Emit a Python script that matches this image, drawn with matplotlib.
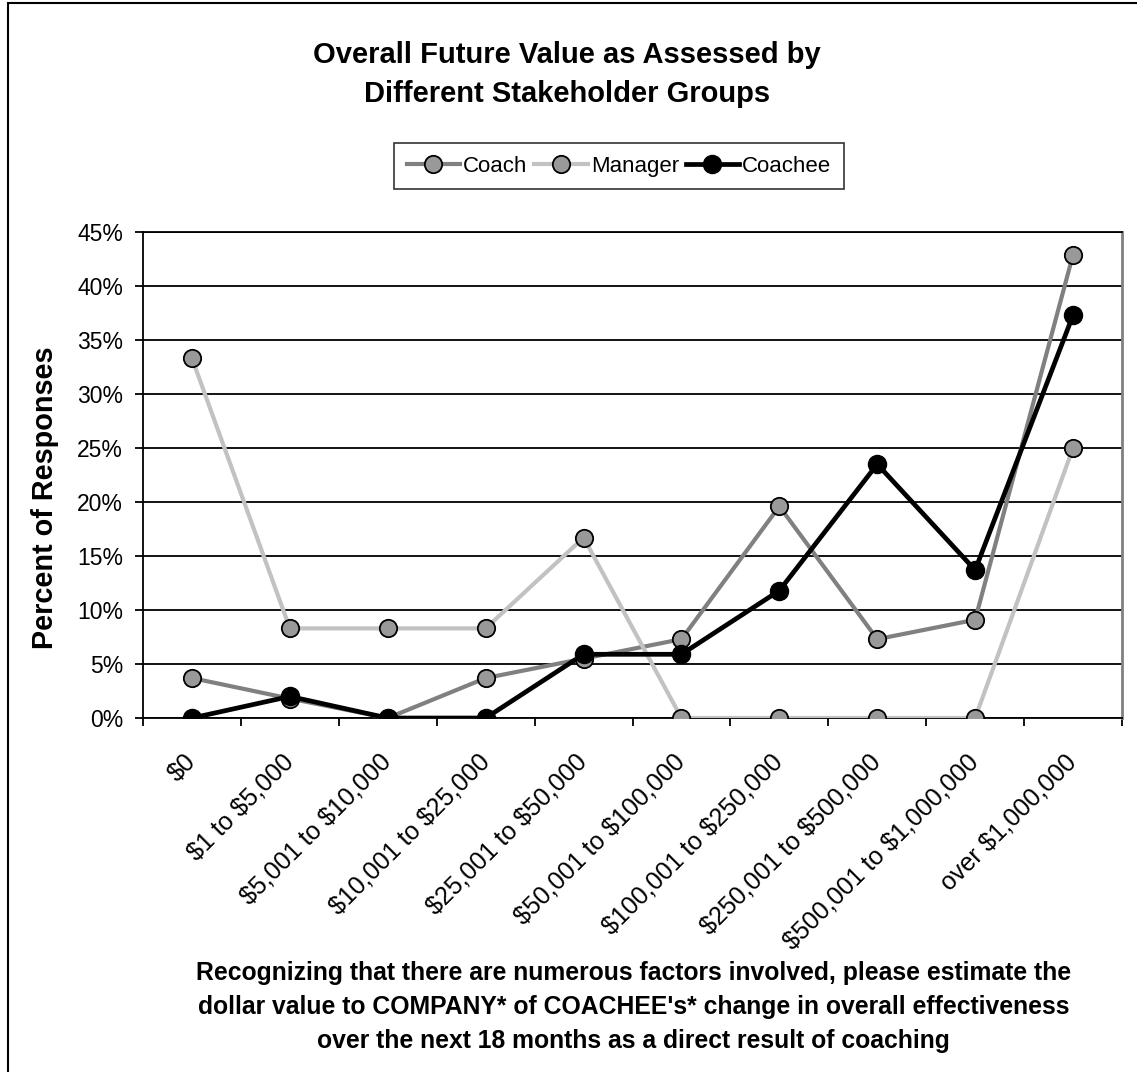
import matplotlib.pyplot as plt
from matplotlib.ticker import FuncFormatter

plt.rcParams['font.family'] = ['Liberation Sans', 'DejaVu Sans']

categories = ['$0', '$1 to $5,000', '$5,001 to $10,000', '$10,001 to $25,000',
              '$25,001 to $50,000', '$50,001 to $100,000', '$100,001 to $250,000',
              '$250,001 to $500,000', '$500,001 to $1,000,000', 'over $1,000,000']
coach = [3.7, 1.8, 0.0, 3.7, 5.5, 7.3, 19.6, 7.3, 9.1, 42.9]
manager = [33.3, 8.3, 8.3, 8.3, 16.7, 0.0, 0.0, 0.0, 0.0, 25.0]
coachee = [0.0, 2.0, 0.0, 0.0, 5.9, 5.9, 11.8, 23.5, 13.7, 37.3]

fig = plt.figure(figsize=(11.37, 10.72), dpi=100)
ax = fig.add_axes([0.1258, 0.3302, 0.861, 0.4534])

x = list(range(len(categories)))

ax.plot(x, coach, color='#808080', lw=3.0, marker='o', ms=12.5,
        mfc='#999999', mec='black', mew=1.3, label='Coach', zorder=3)
ax.plot(x, manager, color='#c2c2c2', lw=3.0, marker='o', ms=12.5,
        mfc='#999999', mec='black', mew=1.3, label='Manager', zorder=3)
ax.plot(x, coachee, color='black', lw=3.4, marker='o', ms=13,
        mfc='black', mec='black', label='Coachee', zorder=4)

ax.set_xlim(-0.5, len(categories) - 0.5)
ax.set_ylim(0, 45)
ax.set_yticks(range(0, 46, 5))
ax.yaxis.set_major_formatter(FuncFormatter(lambda v, p: f'{v:.0f}%'))
ax.yaxis.grid(True, color='black', lw=1.3)
ax.set_axisbelow(True)

# category labels sit between the boundary ticks
ax.set_xticks([i + 0.5 for i in x[:-1]] + [-0.5, len(categories) - 0.5])
ax.set_xticklabels([])
ax.set_xticks(x, minor=True)
ax.set_xticklabels([c.replace('$', r'\$') for c in categories], minor=True,
                   rotation=45, ha='right', va='center', rotation_mode='anchor',
                   fontsize=18)
ax.tick_params(axis='x', which='minor', length=0, pad=29)
ax.tick_params(axis='x', which='major', length=5.5, width=1.3, direction='out')
ax.tick_params(axis='y', length=5.5, width=1.3, labelsize=16.5, pad=9)

for side in ['left', 'bottom', 'top']:
    ax.spines[side].set_linewidth(1.3)
    ax.spines[side].set_color('black')
ax.spines['right'].set_color('#808080')
ax.spines['right'].set_linewidth(2)

fig.text(0.040, 0.5354, 'Percent of Responses', rotation=90, ha='center',
         va='center', fontsize=20.8, fontweight='bold')

# two-line title
title_lines = ['Overall Future Value as Assessed by', 'Different Stakeholder Groups']
for line, yb in zip(title_lines, [0.9408, 0.9049]):
    fig.text(0.499, yb, line, ha='center', va='baseline', fontsize=21,
             fontweight='bold')

xlabel_lines = ["Recognizing that there are numerous factors involved, please estimate the",
                "dollar value to COMPANY* of COACHEE's* change in overall effectiveness",
                "over the next 18 months as a direct result of coaching"]
for line, yb in zip(xlabel_lines, [0.0858, 0.0541, 0.0224]):
    fig.text(0.557, yb, line, ha='center', va='baseline', fontsize=17.8,
             fontweight='bold')

leg = fig.legend(loc='center', bbox_to_anchor=(0.5444, 0.845), ncol=3, fontsize=16,
                 frameon=True, fancybox=False, edgecolor='black', handlelength=2.4,
                 handletextpad=0.15, columnspacing=0.3, borderpad=0.55,
                 borderaxespad=0)
leg.get_frame().set_linewidth(1.2)

# outer chart border (runs past the right and bottom edges)
fig.add_artist(plt.Rectangle((0.0073, -0.05), 1.1, 1.047, transform=fig.transFigure,
                             fill=False, edgecolor='black', lw=1.5))

plt.savefig('out.png', dpi=100)
plt.close()
